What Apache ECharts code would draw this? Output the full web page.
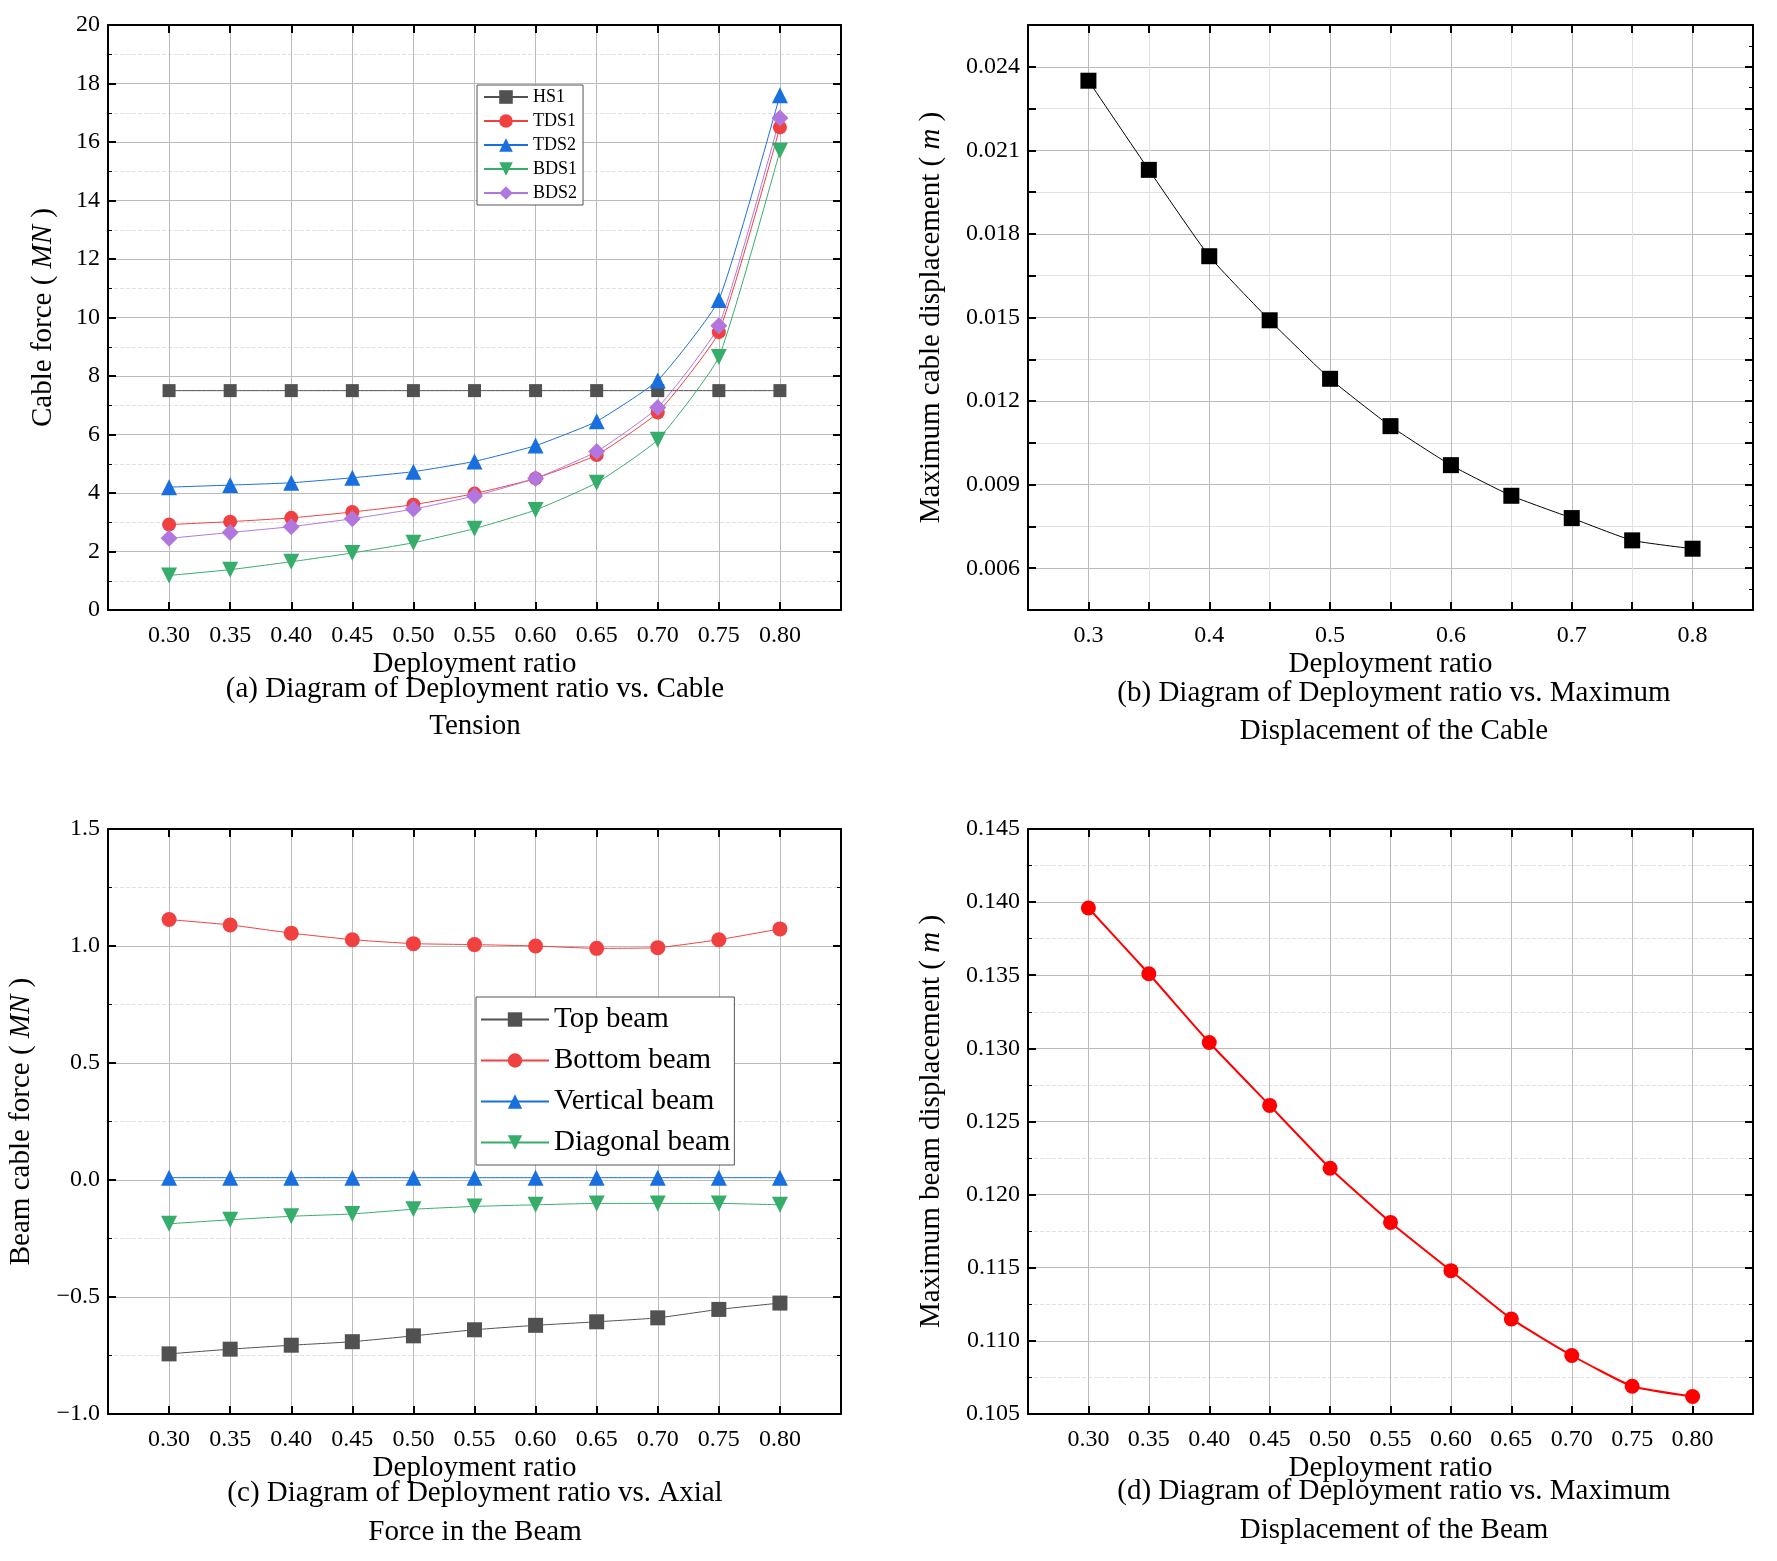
<!DOCTYPE html>
<html>
<head>
<meta charset="utf-8">
<script src="https://cdn.jsdelivr.net/npm/echarts@6/dist/echarts.min.js"></script>
<style>
  html, body { margin: 0; padding: 0; background: #fff; }
  #chart { width: 1777px; height: 1561px; }
</style>
</head>
<body>
<div id="chart"></div>
<script>
'use strict';

var ratios = [0.30, 0.35, 0.40, 0.45, 0.50, 0.55, 0.60, 0.65, 0.70, 0.75, 0.80];

// (a) cable force, MN
var hs1  = [7.5, 7.5, 7.5, 7.5, 7.5, 7.5, 7.5, 7.5, 7.5, 7.5, 7.5];
var tds1 = [2.92, 3.02, 3.15, 3.35, 3.6, 3.98, 4.5, 5.3, 6.75, 9.5, 16.5];
var tds2 = [4.2, 4.27, 4.35, 4.52, 4.73, 5.08, 5.62, 6.45, 7.85, 10.6, 17.6];
var bds1 = [1.18, 1.38, 1.65, 1.95, 2.3, 2.78, 3.42, 4.35, 5.82, 8.65, 15.7];
var bds2 = [2.45, 2.65, 2.85, 3.12, 3.45, 3.9, 4.5, 5.42, 6.92, 9.72, 16.82];

// (b) maximum cable displacement, m
var cableDisp = [0.0235, 0.0203, 0.0172, 0.0149, 0.0128, 0.0111, 0.0097, 0.0086, 0.0078, 0.0070, 0.0067];

// (c) beam axial force, MN
var topBeam = [-0.743, -0.723, -0.706, -0.691, -0.666, -0.64, -0.621, -0.606, -0.589, -0.553, -0.526];
var bottomBeam = [1.113, 1.09, 1.055, 1.027, 1.01, 1.006, 1.0, 0.99, 0.993, 1.027, 1.073];
var verticalBeam = [0.01, 0.01, 0.01, 0.01, 0.01, 0.01, 0.01, 0.01, 0.01, 0.01, 0.01];
var diagonalBeam = [-0.187, -0.17, -0.155, -0.145, -0.125, -0.113, -0.106, -0.1, -0.1, -0.1, -0.106];

// (d) maximum beam displacement, m
var beamDisp = [0.1396, 0.1351, 0.1304, 0.1261, 0.1218, 0.1181, 0.1148, 0.1115, 0.1090, 0.1069, 0.1062];

var FONT = '"Liberation Serif", "DejaVu Serif", serif';
var TICK_SIZE = 24, NAME_SIZE = 29;
var chart = echarts.init(document.getElementById('chart'));

function pairs(ys) {
    return ratios.map(function(x, i) { return [x, ys[i]]; });
}

var grids = [
    { left: 108, top: 25, width: 733, height: 585 },
    { left: 1028, top: 25, width: 725, height: 585 },
    { left: 108, top: 829, width: 733, height: 585 },
    { left: 1028, top: 829, width: 725, height: 585 }
];

var xAxes = [], yAxes = [];

function addPanel(g, xcfg, ycfg) {
    var tick = { show: true, inside: true, length: 8, lineStyle: { color: '#000', width: 2 } };
    var line = { show: true, onZero: false, lineStyle: { color: '#000', width: 2 } };
    xAxes.push(Object.assign({
        type: 'value', gridIndex: g, position: 'bottom',
        min: 0.25, max: 0.85, interval: 0.05,
        axisLine: line, axisTick: tick,
        name: 'Deployment ratio', nameLocation: 'middle', nameGap: 40,
        nameTextStyle: { fontFamily: FONT, fontSize: NAME_SIZE, color: '#000' },
        axisLabel: {
            fontFamily: FONT, fontSize: TICK_SIZE, color: '#000', margin: 14,
            formatter: function(v) {
                if (v < 0.27 || v > 0.83) return '';
                return v.toFixed(2);
            }
        },
        splitLine: { show: true, lineStyle: { color: '#bbb', width: 1 } }
    }, xcfg));
    xAxes.push({
        type: 'value', gridIndex: g, position: 'top',
        min: 0.25, max: 0.85, interval: 0.05,
        axisLine: line, axisTick: tick, axisLabel: { show: false }, splitLine: { show: false }
    });
    yAxes.push(Object.assign({
        type: 'value', gridIndex: g, position: 'left',
        axisLine: line, axisTick: tick,
        nameLocation: 'middle',
        axisLabel: { fontFamily: FONT, fontSize: TICK_SIZE, color: '#000', margin: 8 },
        splitLine: { show: true, lineStyle: { color: '#bbb', width: 1 } },
        minorTick: { show: true, splitNumber: 2, length: 4, lineStyle: { color: '#000' } },
        minorSplitLine: { show: true, lineStyle: { color: '#e2e2e2', type: 'dashed' } }
    }, ycfg));
    yAxes.push({
        type: 'value', gridIndex: g, position: 'right',
        min: ycfg.min, max: ycfg.max, interval: ycfg.interval,
        axisLine: line, axisTick: tick, axisLabel: { show: false }, splitLine: { show: false },
        minorTick: { show: true, splitNumber: 2, length: 4, lineStyle: { color: '#000' } }
    });
}

function yName(txt, unit) {
    return {
        name: '{n|' + txt + '( }{i|' + unit + '}{n| )}',
        nameTextStyle: {
            rich: {
                n: { fontFamily: FONT, fontSize: NAME_SIZE, color: '#000' },
                i: { fontFamily: FONT, fontSize: NAME_SIZE, color: '#000', fontStyle: 'italic' }
            }
        }
    };
}

// (a)
addPanel(0, {}, Object.assign({ min: 0, max: 20, interval: 2, nameGap: 50 }, yName('Cable force ', 'MN')));
// (b) label every 0.1 / 0.003, light lines between
addPanel(1, {
    axisLabel: {
        fontFamily: FONT, fontSize: TICK_SIZE, color: '#000', margin: 14,
        formatter: function(v) {
            var k = Math.round(v * 100);
            if (k % 10 !== 0 || v < 0.27 || v > 0.83) return '';
            return v.toFixed(1);
        }
    },
    splitLine: { show: true, lineStyle: { color: ['#e2e2e2', '#bbb'], width: 1 } }
}, Object.assign({
    min: 0.0045, max: 0.0255, interval: 0.0015, nameGap: 82,
    axisLabel: {
        fontFamily: FONT, fontSize: TICK_SIZE, color: '#000', margin: 8,
        formatter: function(v) {
            var k = Math.round(v * 10000);
            if (k % 30 !== 0) return '';
            return v.toFixed(3);
        }
    },
    minorTick: { show: false }, minorSplitLine: { show: false },
    splitLine: { show: true, lineStyle: { color: ['#e2e2e2', '#bbb'], width: 1 } }
}, yName('Maximum cable displacement ', 'm')));
// (c)
addPanel(2, {}, Object.assign({
    min: -1, max: 1.5, interval: 0.5, nameGap: 72,
    axisLabel: {
        fontFamily: FONT, fontSize: TICK_SIZE, color: '#000', margin: 8,
        formatter: function(v) { return v < 0 ? '\u2212' + (-v).toFixed(1) : v.toFixed(1); }
    }
}, yName('Beam cable force ', 'MN')));
// (d)
addPanel(3, {}, Object.assign({
    min: 0.105, max: 0.145, interval: 0.005, nameGap: 82,
    axisLabel: {
        fontFamily: FONT, fontSize: TICK_SIZE, color: '#000', margin: 8,
        formatter: function(v) { return v.toFixed(3); }
    }
}, yName('Maximum beam displacement ', 'm')));

function lineSeries(name, panel, data, color, symbol, size, width) {
    return {
        name: name, type: 'line',
        xAxisIndex: panel * 2, yAxisIndex: panel * 2,
        data: pairs(data), symbol: symbol, symbolSize: size,
        smooth: 0.15,
        lineStyle: { color: color, width: width || 1 },
        itemStyle: { color: color },
        z: 3
    };
}

var series = [
    lineSeries('HS1', 0, hs1, '#515151', 'rect', 13),
    lineSeries('TDS1', 0, tds1, '#F14040', 'circle', 14),
    lineSeries('TDS2', 0, tds2, '#1A6FDF', 'triangle', 16),
    Object.assign(lineSeries('BDS1', 0, bds1, '#37AD6B', 'triangle', 16), { symbolRotate: 180 }),
    lineSeries('BDS2', 0, bds2, '#B177DE', 'diamond', 17),
    lineSeries('cable', 1, cableDisp, '#000', 'rect', 16),
    lineSeries('Top beam', 2, topBeam, '#515151', 'rect', 15),
    lineSeries('Bottom beam', 2, bottomBeam, '#F14040', 'circle', 15),
    lineSeries('Vertical beam', 2, verticalBeam, '#1A6FDF', 'triangle', 16),
    Object.assign(lineSeries('Diagonal beam', 2, diagonalBeam, '#37AD6B', 'triangle', 16), { symbolRotate: 180 }),
    lineSeries('beam', 3, beamDisp, '#ff0000', 'circle', 15, 2)
];

function caption(x, y, txt) {
    return {
        type: 'text', x: x, y: y,
        style: { text: txt, fontFamily: FONT, fontSize: NAME_SIZE, fill: '#000', textAlign: 'center', textVerticalAlign: 'middle' }
    };
}

chart.setOption({
    animation: false,
    grid: grids,
    xAxis: xAxes,
    yAxis: yAxes,
    legend: [{
        data: ['HS1', 'TDS1', 'TDS2', 'BDS1', 'BDS2'],
        orient: 'vertical', left: 477, top: 85,
        itemWidth: 44, itemHeight: 17, itemGap: 6, padding: [3, 6],
        borderColor: '#555', borderWidth: 1, backgroundColor: '#fff',
        textStyle: { fontFamily: FONT, fontSize: 18, color: '#000' }
    }, {
        data: ['Top beam', 'Bottom beam', 'Vertical beam', 'Diagonal beam'],
        orient: 'vertical', left: 476, top: 997,
        itemWidth: 68, itemHeight: 18, itemGap: 12, padding: [8, 4],
        borderColor: '#555', borderWidth: 1, backgroundColor: '#fff',
        textStyle: { fontFamily: FONT, fontSize: 29, color: '#000' }
    }],
    graphic: [
        caption(475, 689, '(a) Diagram of Deployment ratio vs. Cable'),
        caption(475, 726, 'Tension'),
        caption(1394, 693, '(b) Diagram of Deployment ratio vs. Maximum'),
        caption(1394, 731, 'Displacement of the Cable'),
        caption(475, 1493, '(c) Diagram of Deployment ratio vs. Axial'),
        caption(475, 1532, 'Force in the Beam'),
        caption(1394, 1491, '(d) Diagram of Deployment ratio vs. Maximum'),
        caption(1394, 1530, 'Displacement of the Beam')
    ],
    series: series
});
</script>
</body>
</html>
